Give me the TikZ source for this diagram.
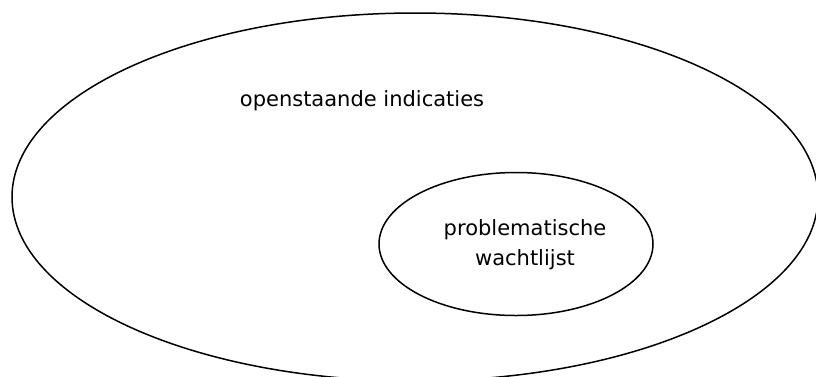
\documentclass[tikz,border=0pt]{standalone}
\usepackage{fontspec}
\setmainfont{DejaVu Sans}
\usetikzlibrary{shapes.geometric}

\begin{document}
\begin{tikzpicture}[x=1pt, y=-1pt]
\tikzstyle{set} = [ellipse, draw = black, line width = 1.5pt, inner sep = 0pt]
\tikzstyle{label} = [font = {\fontsize{21}{30}\selectfont}, align = center, inner sep = 0pt]
\useasboundingbox (0,0) rectangle (816,376);
\clip (0,0) rectangle (816,376);
  \node[set, minimum width = 806, minimum height = 368] (open) at (415,197) {};
  \node[label] (openlabel) at (362,101) {openstaande indicaties};
  \node[set, minimum width = 274, minimum height = 143] (wacht) at (516,244) {};
  \node[label] (wachtlabel) at (525,245) {problematische\\wachtlijst};
\end{tikzpicture}
\end{document}
